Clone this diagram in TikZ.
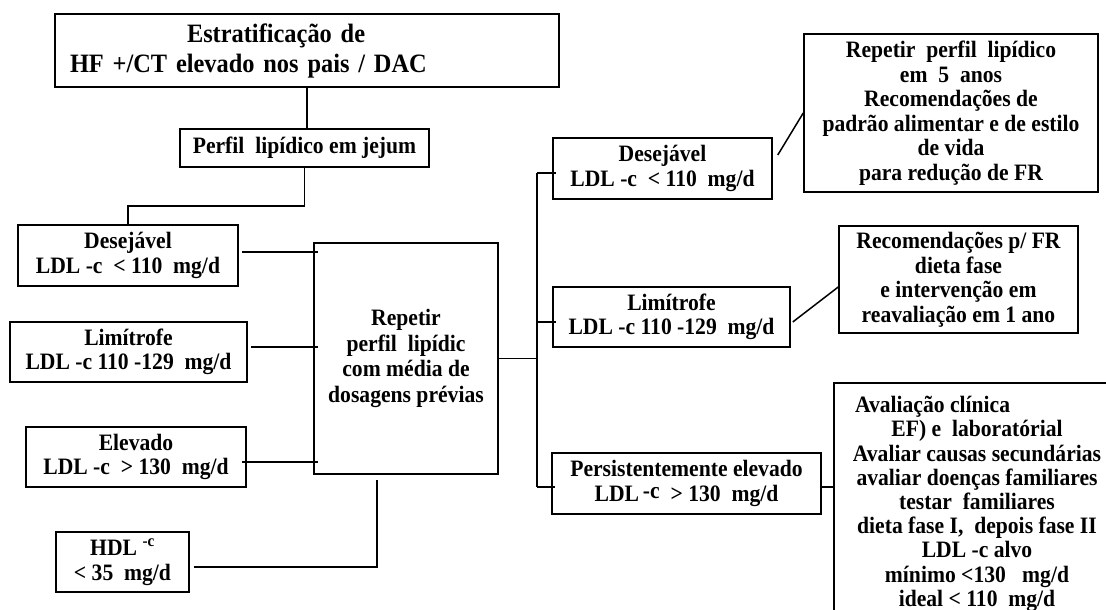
\documentclass[tikz,border=0pt]{standalone}
\usepackage{fontspec}
\setmainfont{Liberation Serif}[FakeStretch=0.92]

\tikzset{
  box/.style={draw, line width=1.5pt, align=center, inner sep=0pt,
    font=\bfseries\fontsize{23.5}{24.5}\selectfont},
  link/.style={line width=1.5pt}
}

\begin{document}
\begin{tikzpicture}
  \clip (0pt,0pt) rectangle (1106pt,-610pt);

  \node[box, minimum width=504pt, minimum height=73pt, text width=474pt, align=left,
    font=\bfseries\fontsize{26.5}{30}\selectfont] (estrat) at (307pt,-50.5pt)
    {\hspace*{117pt}Estratificação de\\HF +/CT elevado nos pais / DAC};
  \node[box, minimum width=249pt, minimum height=38pt] (jejum) at (304.5pt,-148pt)
    {Perfil\ \ lipídico em jejum};

  \node[box, minimum width=220pt, minimum height=61pt] (desL) at (128pt,-255.5pt)
    {Desejável\\LDL -c \ < 110\ \ mg/d};
  \node[box, minimum width=237pt, minimum height=60pt] (limL) at (128.5pt,-352pt)
    {Limítrofe\\LDL -c 110 -129\ \ mg/d};
  \node[box, minimum width=220pt, minimum height=60pt] (eleL) at (136pt,-457pt)
    {Elevado\\LDL -c \ > 130\ \ mg/d};
  \node[box, minimum width=133pt, minimum height=60pt] (hdl) at (122.5pt,-562pt)
    {HDL \textsuperscript{-c}\\< 35\ \ mg/d};
  \node[box, minimum width=184pt, minimum height=231pt,
    font=\bfseries\fontsize{23.5}{25.5}\selectfont] (rep) at (406pt,-358.5pt)
    {Repetir\\perfil\ \ lipídic\\com média de\\dosagens prévias};

  \node[box, minimum width=219pt, minimum height=61pt] (desR) at (662.5pt,-168.5pt)
    {Desejável\\LDL -c \ < 110\ \ mg/d};
  \node[box, minimum width=237pt, minimum height=60pt] (limR) at (671.5pt,-317pt)
    {Limítrofe\\LDL -c 110 -129\ \ mg/d};
  \node[box, minimum width=269pt, minimum height=61pt] (persR) at (686.5pt,-483.5pt)
    {Persistentemente elevado\\LDL\,\raisebox{3pt}{-c}\ \ > 130\ \ mg/d};

  \node[box, minimum width=294pt, minimum height=158pt] (cinco) at (951pt,-113pt)
    {Repetir\ \ perfil\ \ lipídico\\em\ \ 5\ \ anos\\Recomendações de\\
     padrão alimentar e de estilo\\de vida\\para redução de FR};
  \node[box, minimum width=239pt, minimum height=107pt] (umano) at (958.5pt,-279.5pt)
    {Recomendações p/ FR\\dieta fase\\e intervenção em\\reavaliação em 1 ano};
  \node[box, minimum width=286pt, minimum height=242pt,
    font=\bfseries\fontsize{23.5}{24.2}\selectfont] (aval) at (977pt,-504pt)
    {\makebox[250pt][l]{\hspace*{3pt}Avaliação clínica}\\EF) e\ \ laboratórial\\
     Avaliar causas secundárias\\avaliar doenças familiares\\testar\ \ familiares\\
     dieta fase I,\ \ depois fase II\\LDL -c alvo\\mínimo <130\ \ \ mg/d\\ideal < 110\ \ mg/d};

  \coordinate (busT) at (537pt,-173pt);
  \coordinate (busB) at (537pt,-487pt);

  \draw[link] (estrat.south) -- (estrat.south |- jejum.north);
  \draw[link] (jejum.south) -- ++(0pt,-38pt) -| (desL.north);

  \draw[link] ([xshift=3pt,yshift=3.5pt]desL.east) -- ([xshift=5pt,yshift=3.5pt]desL.east -| rep.west);
  \draw[link] ([xshift=3pt,yshift=5pt]limL.east) -- ([xshift=5pt,yshift=5pt]limL.east -| rep.west);
  \draw[link] ([xshift=-5pt,yshift=-5pt]eleL.east) -- ([xshift=5pt,yshift=-5pt]eleL.east -| rep.west);
  \draw[link] ([xshift=4pt,yshift=-5pt]hdl.east) -| ([xshift=-29pt,yshift=-5pt]rep.south);

  \draw[link] (rep.east) -- (rep.east -| busT);
  \draw[link] (busT) -- (busB);
  \draw[link] (busT) -- ([xshift=4pt]busT -| desR.west);
  \draw[link] ([yshift=-5pt]limR.west -| busT) -- ([xshift=4pt,yshift=-5pt]limR.west);
  \draw[link] (busB) -- ([xshift=4pt]busB -| persR.west);

  \draw[link] ([xshift=5pt,yshift=13.5pt]desR.east) -- (cinco.west);
  \draw[link] ([xshift=2pt,yshift=-5pt]limR.east) -- ([yshift=-7.5pt]umano.west);
  \draw[link] ([yshift=-3.5pt]persR.east) -- ([yshift=-3.5pt]persR.east -| aval.west);
\end{tikzpicture}
\end{document}
